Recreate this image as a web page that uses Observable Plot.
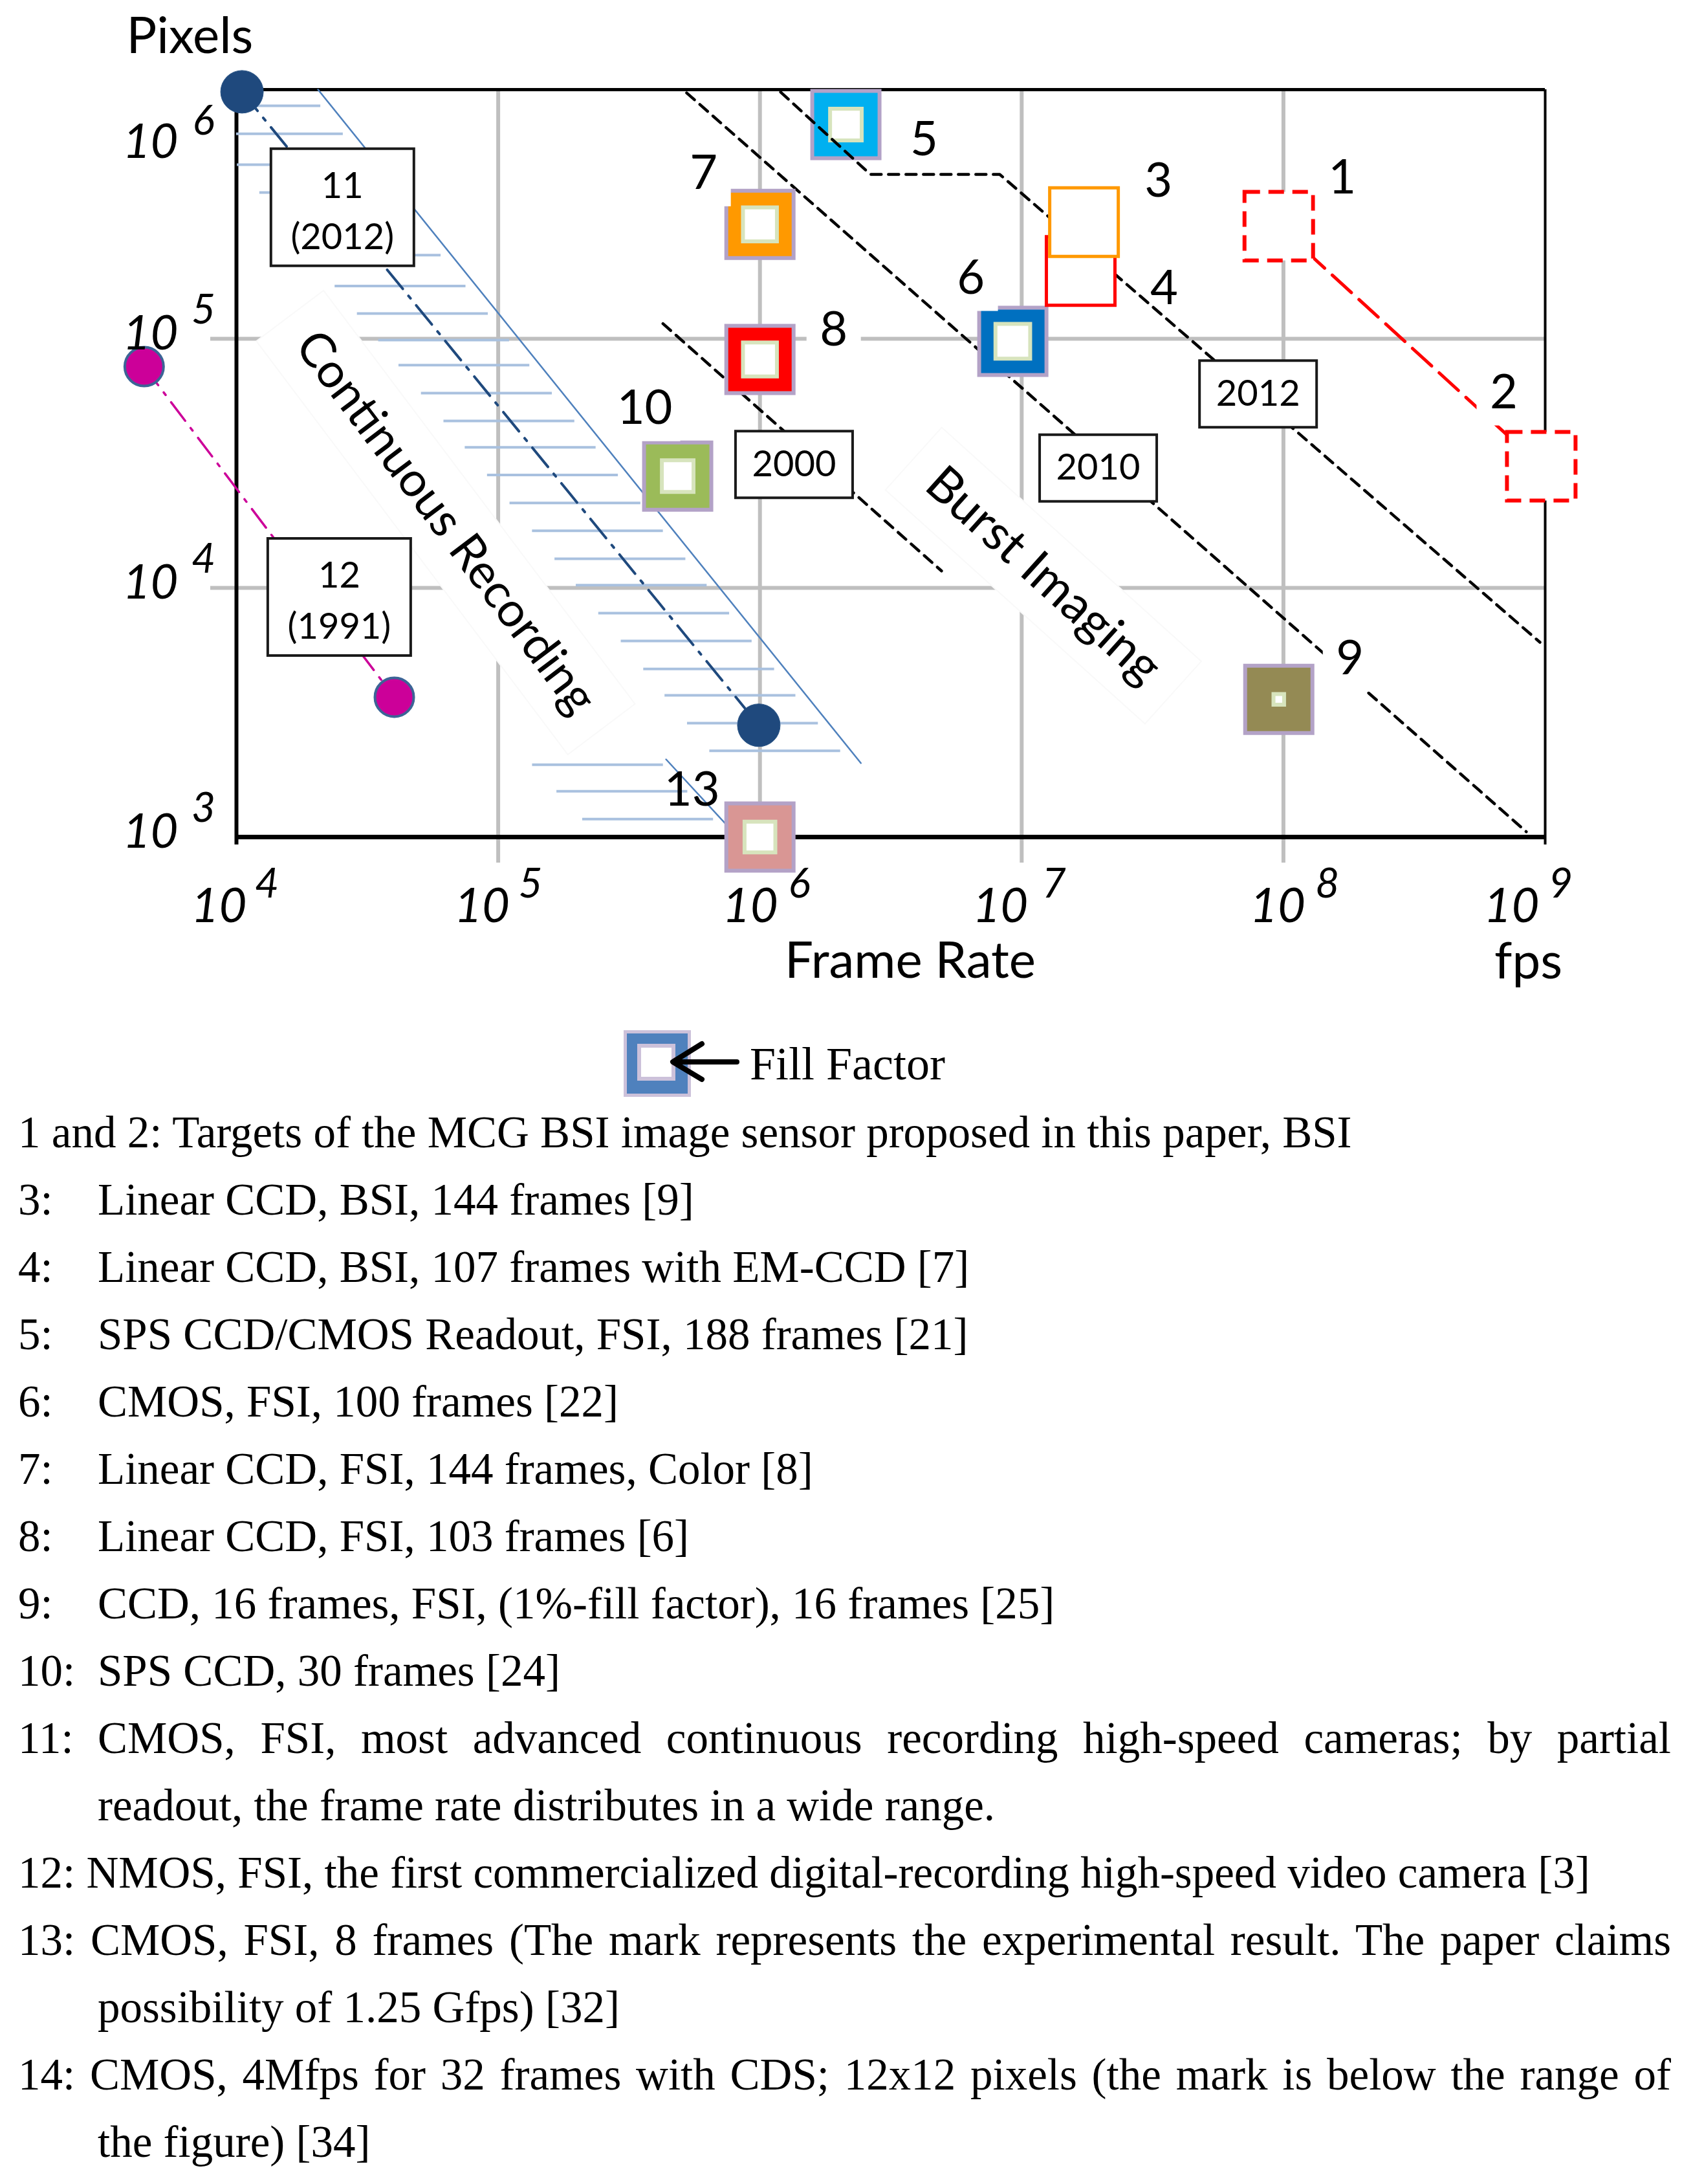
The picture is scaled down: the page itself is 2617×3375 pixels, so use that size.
<!DOCTYPE html>
<html>
<head>
<meta charset="utf-8">
<script src="https://cdn.jsdelivr.net/npm/d3@7"></script>
<script src="https://cdn.jsdelivr.net/npm/@observablehq/plot@0.6"></script>
<style>
html, body { margin: 0; padding: 0; background: #fff; }
body { width: 2617px; height: 3375px; position: relative; overflow: hidden; }
#chart { position: absolute; left: 0; top: 0; }
#legend { position: absolute; left: 950px; top: 1575px; }
#caption { position: absolute; left: 28px; top: 1698px; width: 2555px;
  font-family: "Liberation Serif", "Times New Roman", serif; font-size: 69px; line-height: 104px; color: #000; }
#caption div { white-space: nowrap; }
#caption .lab { display: inline-block; width: 123px; }
</style>
</head>
<body>
<div id="chart"></div>
<svg id="legend" width="620" height="140" xmlns="http://www.w3.org/2000/svg">
  <rect x="16.5" y="19.5" width="99" height="98" fill="#4f81bd" stroke="#ccc1da" stroke-width="5"/>
  <rect x="38" y="41" width="53" height="51" fill="#ffffff" stroke="#ccc1da" stroke-width="6"/>
  <line x1="92" y1="66" x2="189" y2="66" stroke="#000" stroke-width="8" stroke-linecap="round"/>
  <path d="M135,38 L90,66 L135,93" fill="none" stroke="#000" stroke-width="8" stroke-linecap="round" stroke-linejoin="round"/>
  <text x="209" y="93" font-family="Liberation Serif, Times New Roman, serif" font-size="72" fill="#000">Fill Factor</text>
</svg>
<div id="caption"></div>
<script>
// ---------------- data ----------------
const xTickExp = [4, 5, 6, 7, 8, 9];
const yTickExp = [3, 4, 5, 6];

// filled sensors (with fill-factor inner square)
const sensorIds = ["5", "7", "8", "10", "6", "9", "13"];
const sensorFps = [2.13e6, 1e6, 1e6, 4.85e5, 9.25e6, 9.6e7, 1e6];
const sensorPixels = [7.24e5, 2.88e5, 8.26e4, 2.81e4, 9.77e4, 3.57e3, 1e3];
const sensorFillFactor = [0.17, 0.2, 0.2, 0.17, 0.21, 0.01, 0.16];

// linear CCD BSI (outlined)
const linearIds = ["4", "3"];
const linearFps = [1.68e7, 1.73e7];
const linearPixels = [1.87e5, 2.94e5];

// targets of this paper (dashed)
const targetIds = ["1", "2"];
const targetFps = [9.6e7, 9.66e8];
const targetPixels = [2.83e5, 3.08e4];

// continuous-recording cameras (range ends)
const camera11Fps = [1.05e4, 9.9e5];
const camera11Pixels = [9.8e5, 2.81e3];
const camera12Fps = [4.44e3, 4.01e4];
const camera12Pixels = [7.73e4, 3.64e3];

// trend lines
const trend2000Fps = [4.26e5, 4.94e6];
const trend2000Pixels = [1.15e5, 1.17e4];
const trend2010Fps = [5.25e5, 8.47e8];
const trend2010Pixels = [9.7e5, 1.05e3];
const trend2012Fps = [1.2e6, 2.64e6, 8.24e6, 9.55e8];
const trend2012Pixels = [9.77e5, 4.57e5, 4.57e5, 6.05e3];

const yearLabels = ["2000", "2010", "2012"];
const yearLabelFps = [1.35e6, 1.96e7, 8.0e7];
const yearLabelPixels = [3.13e4, 3.03e4, 6.01e4];

const cameraLabels = ["11\n(2012)", "12\n(1991)"];
const cameraLabelFps = [2.54e4, 2.47e4];
const cameraLabelPixels = [3.37e5, 9.2e3];

const regionLabels = ["Continuous Recording", "Burst Imaging"];
const regionFps = [6.3e4, 1.21e7];
const regionPixels = [1.83e4, 1.12e4];

// continuous-recording boundary + hatch rows (log10 pixels)
const boundaryFps = [2.05e4, 2.43e6];
const boundaryPixels = [1e6, 1.98e3];
const boundary2Fps = [4.38e5, 7.69e5];
const boundary2Pixels = [2.05e3, 1.08e3];
const hatchMainExp = [5.935, 5.823, 5.699, 5.587, 5.464, 5.336, 5.212, 5.101, 4.995, 4.894, 4.782, 4.670,
  4.564, 4.453, 4.341, 4.229, 4.117, 4.011, 3.899, 3.787, 3.675, 3.569, 3.457, 3.346];
const hatchLowerExp = [3.290, 3.184, 3.072];

const captionLines = [
  {label: "", text: "1 and 2: Targets of the MCG BSI image sensor proposed in this paper, BSI"},
  {label: "3:", text: "Linear CCD, BSI, 144 frames [9]"},
  {label: "4:", text: "Linear CCD, BSI, 107 frames with EM-CCD [7]"},
  {label: "5:", text: "SPS CCD/CMOS Readout, FSI, 188 frames [21]"},
  {label: "6:", text: "CMOS, FSI, 100 frames [22]"},
  {label: "7:", text: "Linear CCD, FSI, 144 frames, Color [8]"},
  {label: "8:", text: "Linear CCD, FSI, 103 frames [6]"},
  {label: "9:", text: "CCD, 16 frames, FSI, (1%-fill factor), 16 frames [25]"},
  {label: "10:", text: "SPS CCD, 30 frames [24]"},
  {label: "11:", text: "CMOS, FSI, most advanced continuous recording high-speed cameras; by partial", justify: true},
  {indent: true, text: "readout, the frame rate distributes in a wide range."},
  {label: "", text: "12: NMOS, FSI, the first commercialized digital-recording high-speed video camera [3]"},
  {label: "", text: "13: CMOS, FSI, 8 frames (The mark represents the experimental result. The paper claims", justify: true},
  {indent: true, text: "possibility of 1.25 Gfps) [32]"},
  {label: "", text: "14: CMOS, 4Mfps for 32 frames with CDS; 12x12 pixels (the mark is below the range of", justify: true},
  {indent: true, text: "the figure) [34]"}
];

// ---------------- styles / layout ----------------
const sensorColor = {"5": "#00b0f0", "7": "#ff9900", "8": "#ff0000", "10": "#9bbb59", "6": "#0070c0", "9": "#948a54", "13": "#d99694"};
const linearColor = {"3": "#ff9900", "4": "#ff0000"};
const labelOffset = {"1": [98, -74], "2": [-58, -113], "3": [115, -63], "4": [129, 27], "5": [121, 24],
  "6": [-65, -97], "7": [-87, -78], "8": [114, -45], "9": [110, -62], "10": [-51, -104], "13": [-105, -72]};
const labelBg = {"1": true, "2": true, "3": true, "5": true, "6": true, "7": true, "8": true, "9": true, "10": true};
// per-tick horizontal offsets of the "10" base and of the exponent (px)
const xTickBaseDx = {4: -27, 5: -25, 6: -15, 7: -33, 8: -9, 9: -52};
const xTickExpDx = {4: 47, 5: 50, 6: 61, 7: 50, 8: 68, 9: 24};
const SANS = "Lato, 'Open Sans', sans-serif";
const SQ = 104; // outer square side (px)
const rSide = s => s / Math.sqrt(Math.PI);

// rectangle symbol of fixed pixel size, optionally rotated
const boxSymbol = (w, h, deg = 0) => ({
  draw(ctx) {
    const a = deg * Math.PI / 180, c = Math.cos(a), s = Math.sin(a);
    const pts = [[-w / 2, -h / 2], [w / 2, -h / 2], [w / 2, h / 2], [-w / 2, h / 2]]
      .map(([x, y]) => [x * c - y * s, x * s + y * c]);
    ctx.moveTo(pts[0][0], pts[0][1]);
    for (let i = 1; i < 4; i++) ctx.lineTo(pts[i][0], pts[i][1]);
    ctx.closePath();
  }
});

// ---------------- helpers ----------------
const rowsOf = (fps, px, extra = {}) => fps.map((f, i) => {
  const o = {fps: f, pixels: px[i]};
  for (const k in extra) o[k] = extra[k][i];
  return o;
});
const sensors = rowsOf(sensorFps, sensorPixels, {id: sensorIds, ff: sensorFillFactor});
const linears = rowsOf(linearFps, linearPixels, {id: linearIds});
const targets = rowsOf(targetFps, targetPixels, {id: targetIds});
const years = rowsOf(yearLabelFps, yearLabelPixels, {label: yearLabels});
const cams = rowsOf(cameraLabelFps, cameraLabelPixels, {label: cameraLabels});
const regions = rowsOf(regionFps, regionPixels, {label: regionLabels});
const pointById = {};
[...sensors, ...linears, ...targets].forEach(d => pointById[d.id] = d);

function hatchRows(rowsExp, bf, bp, len, gap) {
  const f0 = Math.log10(bf[0]), f1 = Math.log10(bf[1]);
  const p0 = Math.log10(bp[0]), p1 = Math.log10(bp[1]);
  return rowsExp.map(e => {
    const t = (e - p0) / (p1 - p0);
    const xb = f0 + t * (f1 - f0);
    return {y: 10 ** e, x1: 10 ** Math.max(4, xb - gap - len), x2: 10 ** (xb - gap)};
  });
}
const hatch = [
  ...hatchRows(hatchMainExp, boundaryFps, boundaryPixels, 0.5, 0.04),
  ...hatchRows(hatchLowerExp, boundary2Fps, boundary2Pixels, 0.5, 0.03)
];

const lineOpts = {x: "fps", y: "pixels"};
const txt = {fontFamily: SANS, fill: "#000", lineAnchor: "middle", textAnchor: "middle"};

const numberLabelMarks = Object.keys(labelOffset).flatMap(id => {
  const o = {x: "fps", y: "pixels", dx: labelOffset[id][0], dy: labelOffset[id][1]};
  const marks = [];
  if (labelBg[id]) marks.push(Plot.dot([pointById[id]], {...o, symbol: boxSymbol(id.length > 1 ? 110 : 84, 100), fill: "#fff", stroke: "none"}));
  marks.push(Plot.text([pointById[id]], {...o, ...txt, text: () => id, fontSize: 74}));
  return marks;
});

const xTickMarks = xTickExp.flatMap(e => [
  Plot.text([e], {x: d => 10 ** d, y: () => 1e3, text: () => "10", dx: xTickBaseDx[e], dy: 108,
    ...txt, fontSize: 74, fontStyle: "italic"}),
  Plot.text([e], {x: d => 10 ** d, y: () => 1e3, text: d => String(d), dx: xTickExpDx[e], dy: 73,
    ...txt, fontSize: 64, fontStyle: "italic"})
]);

const plot = Plot.plot({
  width: 2617, height: 1560,
  marginLeft: 365, marginRight: 229, marginTop: 138, marginBottom: 267,
  x: {type: "log", domain: [1e4, 1e9], axis: null},
  y: {type: "log", domain: [1e3, 1e6], axis: null},
  color: {type: "identity"},
  r: {type: "identity"},
  style: {background: "#fff"},
  marks: [
    // grid
    Plot.ruleX(xTickExp.slice(1, -1).map(e => 10 ** e), {x: d => d, stroke: "#bfbfbf", strokeWidth: 6, insetBottom: -40}),
    Plot.ruleY(yTickExp.slice(1, -1).map(e => 10 ** e), {y: d => d, stroke: "#bfbfbf", strokeWidth: 6, insetLeft: -40}),
    // region labels with white boxes
    Plot.dot([regions[0]], {...lineOpts, symbol: boxSymbol(800, 130, 53), fill: "#fff", stroke: "#f9f9f9", strokeWidth: 2}),
    Plot.dot([regions[1]], {...lineOpts, symbol: boxSymbol(540, 130, 42), fill: "#fff", stroke: "#f9f9f9", strokeWidth: 2}),
    Plot.text([regions[0]], {...lineOpts, ...txt, text: "label", rotate: 53, fontSize: 74}),
    Plot.text([regions[1]], {...lineOpts, ...txt, text: "label", rotate: 42, fontSize: 76}),
    // frame
    Plot.ruleX([1e4], {x: d => d, stroke: "#000", strokeWidth: 6, insetBottom: -12}),
    Plot.ruleX([1e9], {x: d => d, stroke: "#000", strokeWidth: 4, insetBottom: -12}),
    Plot.ruleY([1e3], {y: d => d, stroke: "#000", strokeWidth: 7}),
    Plot.ruleY([1e6], {y: d => d, stroke: "#000", strokeWidth: 5}),
    // continuous recording band
    Plot.ruleY(hatch, {y: "y", x1: "x1", x2: "x2", stroke: "#a9c1df", strokeWidth: 4}),
    Plot.line(rowsOf(boundaryFps, boundaryPixels), {...lineOpts, stroke: "#4f81bd", strokeWidth: 2.5}),
    Plot.line(rowsOf(boundary2Fps, boundary2Pixels), {...lineOpts, stroke: "#4f81bd", strokeWidth: 2.5}),
    // trend lines under squares
    Plot.line(rowsOf(trend2000Fps, trend2000Pixels), {...lineOpts, stroke: "#000", strokeWidth: 4.5, strokeDasharray: "16,11"}),
    Plot.line(rowsOf(trend2010Fps, trend2010Pixels), {...lineOpts, stroke: "#000", strokeWidth: 4.5, strokeDasharray: "16,11"}),
    // camera ranges
    Plot.line(rowsOf(camera12Fps, camera12Pixels), {...lineOpts, stroke: "#cc0099", strokeWidth: 3.5, strokeDasharray: "36,14,5,14"}),
    Plot.line(rowsOf(camera11Fps, camera11Pixels), {...lineOpts, stroke: "#1f497d", strokeWidth: 4, strokeDasharray: "38,14,5,14"}),
    // target link
    Plot.line(targets, {...lineOpts, stroke: "#ff0000", strokeWidth: 5, strokeDasharray: "40,16"}),
    // sensor squares
    Plot.dot(sensors, {...lineOpts, symbol: "square", r: rSide(SQ), fill: d => sensorColor[d.id], stroke: "#b3a2c7", strokeWidth: 6}),
    Plot.dot(sensors, {...lineOpts, symbol: "square", r: d => rSide(Math.sqrt(d.ff) * SQ + 6), fill: "#fff", stroke: "#d7e4bd", strokeWidth: 6}),
    // 2012 trend over sensor 5
    Plot.line(rowsOf(trend2012Fps, trend2012Pixels), {...lineOpts, stroke: "#000", strokeWidth: 4.5, strokeDasharray: "16,11"}),
    // linear CCD BSI outlined
    Plot.dot(linears, {...lineOpts, symbol: "square", r: rSide(106), fill: "#fff", stroke: d => linearColor[d.id], strokeWidth: 5}),
    // targets
    Plot.dot(targets, {...lineOpts, symbol: "square", r: rSide(106), fill: "#fff", stroke: "#ff0000", strokeWidth: 6, strokeDasharray: "24,13"}),
    // boxed labels
    Plot.dot(years, {...lineOpts, symbol: boxSymbol(181, 103), fill: "#fff", stroke: "#1a1a1a", strokeWidth: 4}),
    Plot.text(years, {...lineOpts, ...txt, text: "label", fontSize: 56}),
    Plot.dot(cams, {...lineOpts, symbol: boxSymbol(221, 181), fill: "#fff", stroke: "#1a1a1a", strokeWidth: 4}),
    Plot.text(cams, {...lineOpts, ...txt, text: "label", fontSize: 56, lineHeight: 1.4}),
    // circles
    Plot.dot(rowsOf(camera12Fps, camera12Pixels), {...lineOpts, r: 30, fill: "#cc0099", stroke: "#3c6496", strokeWidth: 4}),
    Plot.dot(rowsOf(camera11Fps, camera11Pixels), {...lineOpts, r: 33, fill: "#1f497d", stroke: "#2a5586", strokeWidth: 1}),
    // number labels
    ...numberLabelMarks,
    // tick labels
    ...xTickMarks,
    Plot.text(yTickExp.filter(e => e < 6), {x: () => 1e4, y: e => 10 ** e, text: () => "10", dx: -90, dy: -7,
      ...txt, textAnchor: "end", fontSize: 74, fontStyle: "italic"}),
    Plot.text(yTickExp.filter(e => e < 6), {x: () => 1e4, y: e => 10 ** e, text: e => String(e), dx: -51, dy: -44,
      ...txt, fontSize: 64, fontStyle: "italic"}),
    Plot.text(yTickExp.filter(e => e === 6), {x: () => 1e4, y: e => 10 ** e, text: () => "10", dx: -90, dy: 82,
      ...txt, textAnchor: "end", fontSize: 74, fontStyle: "italic"}),
    Plot.text(yTickExp.filter(e => e === 6), {x: () => 1e4, y: e => 10 ** e, text: e => String(e), dx: -51, dy: 49,
      ...txt, fontSize: 64, fontStyle: "italic"}),
    // axis titles
    Plot.text(["Pixels"], {frameAnchor: "top-left", text: d => d, dx: -72, dy: -81, ...txt, fontSize: 78}),
    Plot.text(["Frame Rate"], {frameAnchor: "bottom", text: d => d, dx: 30, dy: 193, ...txt, fontSize: 78}),
    Plot.text(["fps"], {frameAnchor: "bottom-right", text: d => d, dx: -26, dy: 194, ...txt, fontSize: 78})
  ]
});
document.getElementById("chart").appendChild(plot);

// ---------- caption ----------
const cap = document.getElementById("caption");
captionLines.forEach(l => {
  const div = document.createElement("div");
  if (l.indent) div.style.paddingLeft = "123px";
  if (l.label) {
    const lab = document.createElement("span");
    lab.className = "lab";
    lab.textContent = l.label;
    div.appendChild(lab);
  }
  const span = document.createElement("span");
  span.textContent = l.text;
  div.appendChild(span);
  cap.appendChild(div);
  if (l.justify) {
    const target = 2555 - (l.label ? 123 : 0);
    const w = span.getBoundingClientRect().width;
    const n = (l.text.match(/ /g) || []).length;
    span.style.wordSpacing = ((target - w) / n) + "px";
  }
});
</script>
</body>
</html>
